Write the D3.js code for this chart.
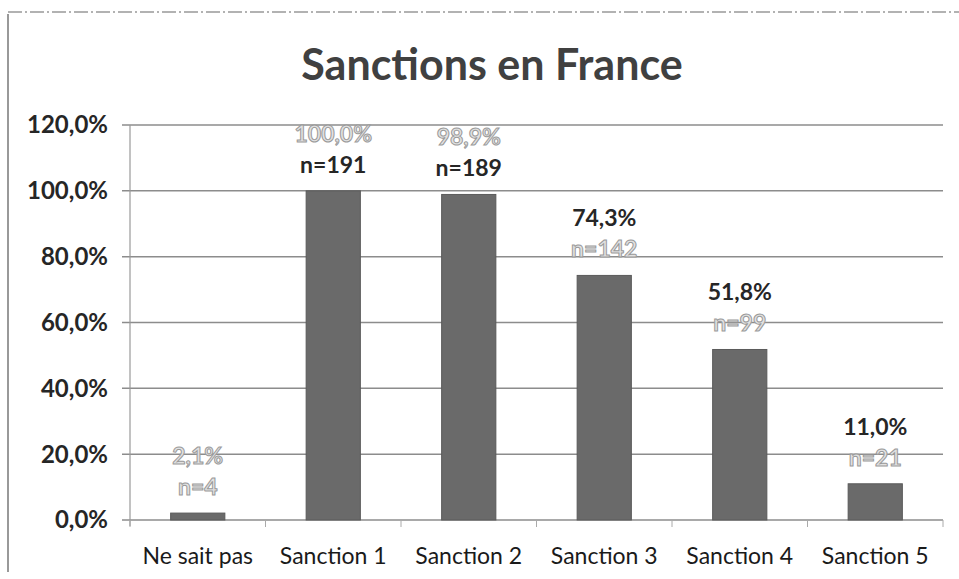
<!DOCTYPE html>
<html>
<head>
<meta charset="utf-8">
<script src="https://cdn.jsdelivr.net/npm/d3@7"></script>
<style>
  body { margin: 0; background: #fff; }
  svg { font-family: Lato, "Open Sans", sans-serif; }
</style>
</head>
<body>
<svg id="chart" width="959" height="579"></svg>
<script>
const categories = ["Ne sait pas", "Sanction 1", "Sanction 2", "Sanction 3", "Sanction 4", "Sanction 5"];
const shares = [0.021, 1.0, 0.989, 0.743, 0.518, 0.110];
const counts = [4, 191, 189, 142, 99, 21];
// which of the two label lines came out dark in the scan (the rest are faded)
const pctDark = [false, false, false, true, true, true];
const nDark = [false, true, true, false, false, false];
const yTicks = [0, 0.2, 0.4, 0.6, 0.8, 1.0, 1.2];

const width = 959, height = 579;
const margin = { top: 125, right: 16, bottom: 59, left: 130 };

const fr = d3.formatLocale({ decimal: ",", thousands: " ", grouping: [3], currency: ["", " €"] });
const pct = fr.format(".1%");

const svg = d3.select("#chart");

// scanned frame edges
svg.append("line")
  .attr("x1", 8).attr("x2", 8).attr("y1", 14).attr("y2", 572)
  .attr("stroke", "#777").attr("stroke-width", 1.5);
svg.append("line")
  .attr("x1", 8).attr("x2", 959).attr("y1", 12).attr("y2", 12)
  .attr("stroke", "#999").attr("stroke-width", 1.5)
  .attr("stroke-dasharray", "14,3,2,3");

svg.append("text")
  .attr("x", 492).attr("y", 80)
  .attr("text-anchor", "middle")
  .attr("font-size", 43).attr("font-weight", "bold")
  .attr("fill", "#404040")
  .text("Sanctions en France");

const x = d3.scaleBand()
  .domain(categories)
  .range([margin.left, width - margin.right])
  .paddingInner(0.6)
  .paddingOuter(0.3);

const y = d3.scaleLinear()
  .domain([0, 1.2])
  .range([height - margin.bottom, margin.top]);

// gridlines
svg.append("g")
  .selectAll("line")
  .data(yTicks)
  .join("line")
  .attr("x1", margin.left - 8)
  .attr("x2", width - margin.right)
  .attr("y1", d => y(d))
  .attr("y2", d => y(d))
  .attr("stroke", "#8c8c8c")
  .attr("stroke-width", 1.5);

// y axis line
svg.append("line")
  .attr("x1", margin.left).attr("x2", margin.left)
  .attr("y1", y(1.2)).attr("y2", y(0) + 6)
  .attr("stroke", "#999").attr("stroke-width", 1.2);

// category tick marks
const plotW = width - margin.right - margin.left;
svg.append("g")
  .selectAll("line")
  .data(d3.range(categories.length + 1))
  .join("line")
  .attr("x1", i => margin.left + i * plotW / categories.length)
  .attr("x2", i => margin.left + i * plotW / categories.length)
  .attr("y1", y(0))
  .attr("y2", y(0) + 7)
  .attr("stroke", "#aaa");

// y tick labels
svg.append("g")
  .selectAll("text")
  .data(yTicks)
  .join("text")
  .attr("x", 108)
  .attr("y", d => y(d))
  .attr("dy", "0.35em")
  .attr("text-anchor", "end")
  .attr("font-size", 24).attr("font-weight", "bold")
  .attr("fill", "#262626")
  .text(d => pct(d));

// bars
svg.append("g")
  .selectAll("rect")
  .data(shares)
  .join("rect")
  .attr("x", (d, i) => x(categories[i]))
  .attr("y", d => y(d))
  .attr("width", x.bandwidth())
  .attr("height", d => y(0) - y(d))
  .attr("fill", "#6a6a6a")
  .attr("stroke", "#5a5a5a")
  .attr("stroke-width", 1);

// category labels
svg.append("g")
  .selectAll("text")
  .data(categories)
  .join("text")
  .attr("x", d => x(d) + x.bandwidth() / 2)
  .attr("y", 564)
  .attr("text-anchor", "middle")
  .attr("font-size", 23)
  .attr("fill", "#1a1a1a")
  .text(d => d);

// data labels: percentage above count
function styleLabel(sel, dark) {
  sel.attr("fill", (d, i) => dark[i] ? "#262626" : "#e2e2e2")
    .attr("stroke", (d, i) => dark[i] ? "none" : "#9a9a9a")
    .attr("stroke-width", 1);
}

svg.append("g")
  .selectAll("text")
  .data(shares)
  .join("text")
  .attr("x", (d, i) => x(categories[i]) + x.bandwidth() / 2)
  .attr("y", d => y(d) - 49)
  .attr("text-anchor", "middle")
  .attr("font-size", 23).attr("font-weight", "bold")
  .text(d => pct(d))
  .call(styleLabel, pctDark);

svg.append("g")
  .selectAll("text")
  .data(counts)
  .join("text")
  .attr("x", (d, i) => x(categories[i]) + x.bandwidth() / 2)
  .attr("y", (d, i) => y(shares[i]) - 18)
  .attr("text-anchor", "middle")
  .attr("font-size", 23).attr("font-weight", "bold")
  .text(d => "n=" + d)
  .call(styleLabel, nDark);
</script>
</body>
</html>
